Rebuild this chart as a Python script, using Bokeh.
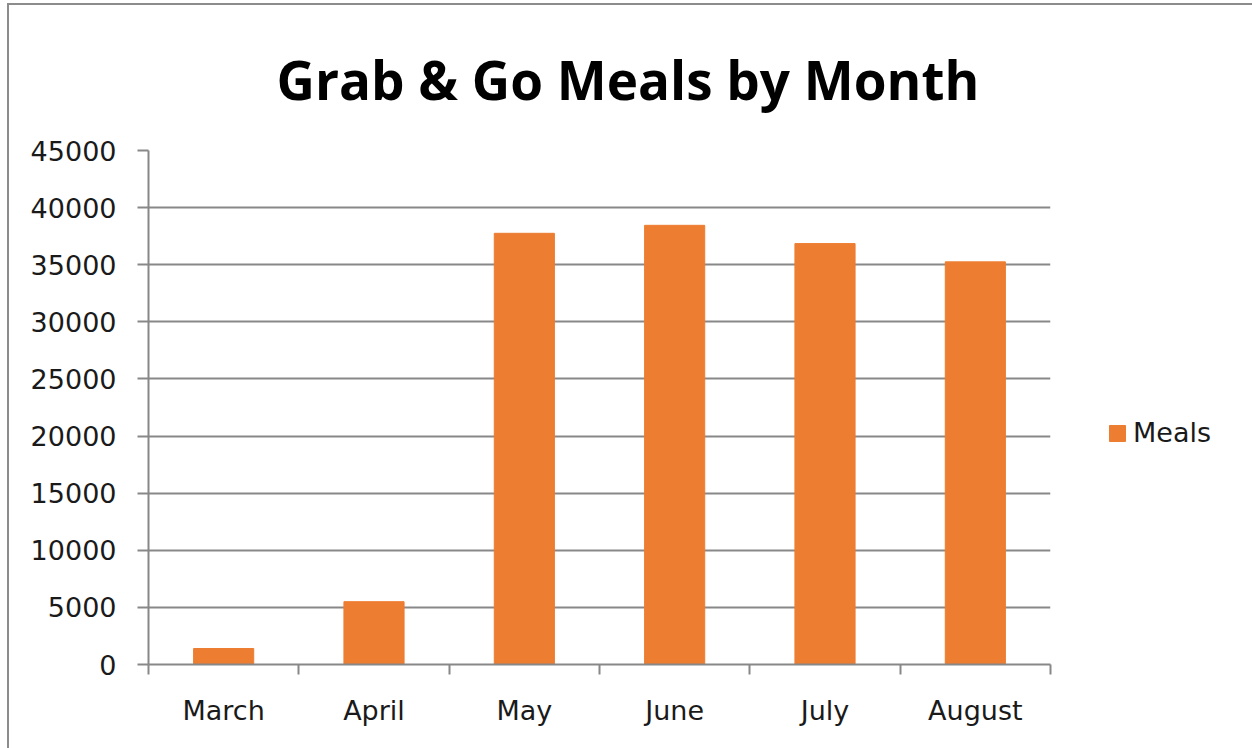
from bokeh.plotting import figure
from bokeh.models import (ColumnDataSource, FactorRange, Range1d, LinearAxis, CategoricalAxis,
                          FixedTicker, NumeralTickFormatter, Legend, LegendItem,
                          CategoricalTicker)
from bokeh.embed import file_html
from bokeh.resources import INLINE

months = ["March", "April", "May", "June", "July", "August"]
meals = [1400, 5500, 37750, 38450, 36850, 35250]
y_ticks = [0, 5000, 10000, 15000, 20000, 25000, 30000, 35000, 40000, 45000]
series_name = "Meals"
chart_title = "Grab & Go Meals by Month"

FONT = "DejaVu Sans"
TFONT = "Open Sans"
GRID = "#888888"
TEXT = "#1a1a1a"
ORANGE = "#ED7D31"

source = ColumnDataSource(dict(month=months, meals=meals))

p = figure(frame_width=902, frame_height=514, x_range=FactorRange(*months, range_padding=0),
           y_range=Range1d(0, 45000), output_backend="svg", toolbar_location=None,
           x_axis_location=None, y_axis_location=None,
           min_border_left=139, min_border_right=202, min_border_top=144, min_border_bottom=85)
p.margin = (3, 0, 0, 7)
p.styles = {"border-left": "2px solid #8c8c8c", "border-top": "2px solid #8c8c8c"}
p.outline_line_color = None
p.background_fill_color = "white"
p.border_fill_color = "white"

r = p.vbar(x="month", top="meals", width=0.4, source=source, color=ORANGE)

# title
p.title.text = chart_title
p.title.text_font = TFONT
p.title.text_font_size = "53px"
p.title.text_font_style = "bold"
p.title.text_color = "black"
p.title.align = "left"
p.title.offset = 128
p.title.standoff = 70

# y axis
yax = LinearAxis(ticker=FixedTicker(ticks=y_ticks), formatter=NumeralTickFormatter(format="0"))
yax.axis_line_color = GRID
yax.axis_line_width = 2
yax.major_tick_line_color = GRID
yax.major_tick_line_width = 2
yax.major_tick_out = 11
yax.major_tick_in = 0
yax.minor_tick_line_color = None
yax.major_label_standoff = 21
yax.major_label_text_font = FONT
yax.major_label_text_font_size = "27px"
yax.major_label_text_color = TEXT
p.add_layout(yax, "left")

p.ygrid.ticker = FixedTicker(ticks=y_ticks)
p.ygrid.grid_line_color = GRID
p.ygrid.grid_line_width = 2
p.xgrid.grid_line_color = None

# boundary ticks axis (x), in synthetic coordinates of the factor range
tax = LinearAxis(ticker=FixedTicker(ticks=list(range(len(months) + 1))))
tax.axis_line_color = GRID
tax.axis_line_width = 2
tax.major_tick_line_color = GRID
tax.major_tick_line_width = 2
tax.major_tick_out = 10
tax.major_tick_in = 0
tax.minor_tick_line_color = None
tax.major_label_text_font_size = "0px"
tax.major_label_standoff = 0
p.add_layout(tax, "below")

cax = CategoricalAxis(ticker=CategoricalTicker())
cax.axis_line_color = None
cax.major_tick_line_color = None
cax.minor_tick_line_color = None
cax.major_label_standoff = 14
cax.major_label_text_font = FONT
cax.major_label_text_font_size = "27px"
cax.major_label_text_color = TEXT
p.add_layout(cax, "below")

legend = Legend(items=[LegendItem(label=series_name, renderers=[r])], location=(57, 216),
                label_text_font=FONT, label_text_font_size="27px", label_text_color=TEXT,
                glyph_width=20, glyph_height=20, label_height=20, padding=0, margin=0, spacing=0,
                label_standoff=6, border_line_color=None, background_fill_alpha=0)
p.add_layout(legend, "right")

open("out.html", "w").write(file_html(p, INLINE))
